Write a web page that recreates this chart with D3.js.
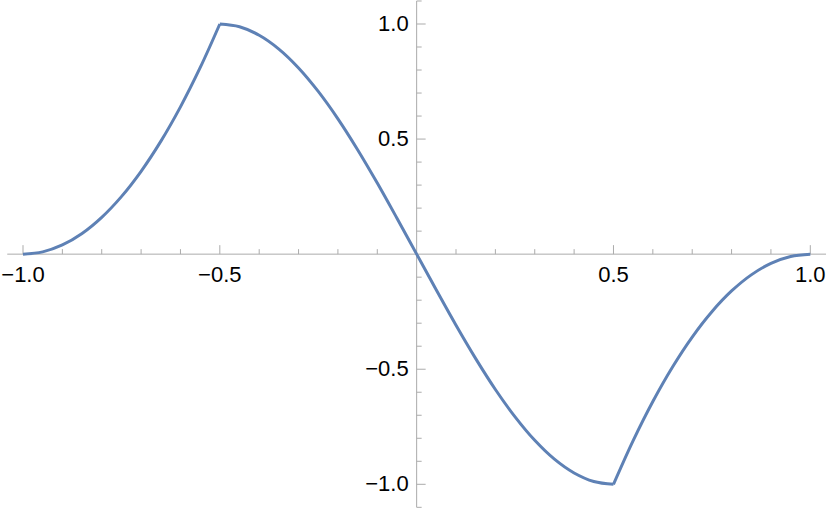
<!DOCTYPE html>
<html>
<head>
<meta charset="utf-8">
<script src="https://cdn.jsdelivr.net/npm/d3@7"></script>
<style>
  html, body { margin: 0; padding: 0; background: #fff; }
  svg { display: block; }
  .lbl { font-family: "Liberation Sans", Arial, sans-serif; font-size: 22px; fill: #000; }
</style>
</head>
<body>
<svg id="chart" width="830" height="512"></svg>
<script>
// ---- data ----
const xLeft   = [-1.0, -0.95, -0.9, -0.85, -0.8, -0.75, -0.7, -0.65, -0.6, -0.55, -0.5];
const yLeft   = [0.0, 0.01, 0.04, 0.09, 0.16, 0.25, 0.36, 0.49, 0.64, 0.81, 1.0];
const xMiddle = [-0.5, -0.45, -0.4, -0.35, -0.3, -0.25, -0.2, -0.15, -0.1, -0.05, 0.0,
                 0.05, 0.1, 0.15, 0.2, 0.25, 0.3, 0.35, 0.4, 0.45, 0.5];
const yMiddle = [1.0, 0.988, 0.951, 0.891, 0.809, 0.707, 0.588, 0.454, 0.309, 0.156, 0.0,
                 -0.156, -0.309, -0.454, -0.588, -0.707, -0.809, -0.891, -0.951, -0.988, -1.0];
const xRight  = [0.5, 0.55, 0.6, 0.65, 0.7, 0.75, 0.8, 0.85, 0.9, 0.95, 1.0];
const yRight  = [-1.0, -0.81, -0.64, -0.49, -0.36, -0.25, -0.16, -0.09, -0.04, -0.01, 0.0];

const xMajorTicks = [-1.0, -0.5, 0.5, 1.0];
const yMajorTicks = [-1.0, -0.5, 0.5, 1.0];
const xTickLabels = ["\u22121.0", "\u22120.5", "0.5", "1.0"];
const yTickLabels = ["\u22121.0", "\u22120.5", "0.5", "1.0"];
const xMinorTicks = [-0.9, -0.8, -0.7, -0.6, -0.4, -0.3, -0.2, -0.1, 0.1, 0.2, 0.3, 0.4, 0.6, 0.7, 0.8, 0.9];
const yMinorTicks = [-1.1, -0.9, -0.8, -0.7, -0.6, -0.4, -0.3, -0.2, -0.1, 0.1, 0.2, 0.3, 0.4, 0.6, 0.7, 0.8, 0.9, 1.1];
const xAxisExtent = [-1.04, 1.04];
const yAxisExtent = [-1.1, 1.1];

// ---- drawing ----
const svg = d3.select("#chart");
const x = d3.scaleLinear().domain([-1, 1]).range([23, 810.3]);
const y = d3.scaleLinear().domain([-1, 1]).range([484.3, 24]);
const axisColor = "#ababab";

// x axis line
svg.append("line")
  .attr("x1", x(xAxisExtent[0])).attr("x2", x(xAxisExtent[1]))
  .attr("y1", y(0)).attr("y2", y(0))
  .attr("stroke", axisColor).attr("stroke-width", 1);
// y axis line
svg.append("line")
  .attr("x1", x(0)).attr("x2", x(0))
  .attr("y1", y(yAxisExtent[1])).attr("y2", y(yAxisExtent[0]))
  .attr("stroke", axisColor).attr("stroke-width", 1);

// x ticks (pointing up)
svg.selectAll(".xmaj").data(xMajorTicks).enter().append("line")
  .attr("x1", d => x(d)).attr("x2", d => x(d))
  .attr("y1", y(0)).attr("y2", y(0) - 9)
  .attr("stroke", axisColor);
svg.selectAll(".xmin").data(xMinorTicks).enter().append("line")
  .attr("x1", d => x(d)).attr("x2", d => x(d))
  .attr("y1", y(0)).attr("y2", y(0) - 5)
  .attr("stroke", axisColor);
// y ticks (pointing right)
svg.selectAll(".ymaj").data(yMajorTicks).enter().append("line")
  .attr("x1", x(0)).attr("x2", x(0) + 9)
  .attr("y1", d => y(d)).attr("y2", d => y(d))
  .attr("stroke", axisColor);
svg.selectAll(".ymin").data(yMinorTicks).enter().append("line")
  .attr("x1", x(0)).attr("x2", x(0) + 5)
  .attr("y1", d => y(d)).attr("y2", d => y(d))
  .attr("stroke", axisColor);

// tick labels
svg.selectAll(".xl").data(xMajorTicks).enter().append("text")
  .attr("class", "lbl")
  .attr("x", d => x(d)).attr("y", y(0) + 28)
  .attr("text-anchor", "middle")
  .text((d, i) => xTickLabels[i]);
svg.selectAll(".yl").data(yMajorTicks).enter().append("text")
  .attr("class", "lbl")
  .attr("x", x(0) - 8).attr("y", d => y(d) + 7)
  .attr("text-anchor", "end")
  .text((d, i) => yTickLabels[i]);

// curve (three pieces, kinks at ±0.5)
const line = d3.line().x(d => x(d[0])).y(d => y(d[1])).curve(d3.curveCatmullRom.alpha(0.5));
const segments = [
  d3.zip(xLeft, yLeft),
  d3.zip(xMiddle, yMiddle),
  d3.zip(xRight, yRight)
];
svg.append("path")
  .attr("d", segments.map(s => line(s)).join(""))
  .attr("fill", "none")
  .attr("stroke", "#5E81B5")
  .attr("stroke-width", 3)
  .attr("stroke-linejoin", "round")
  .attr("stroke-linecap", "butt");
</script>
</body>
</html>
